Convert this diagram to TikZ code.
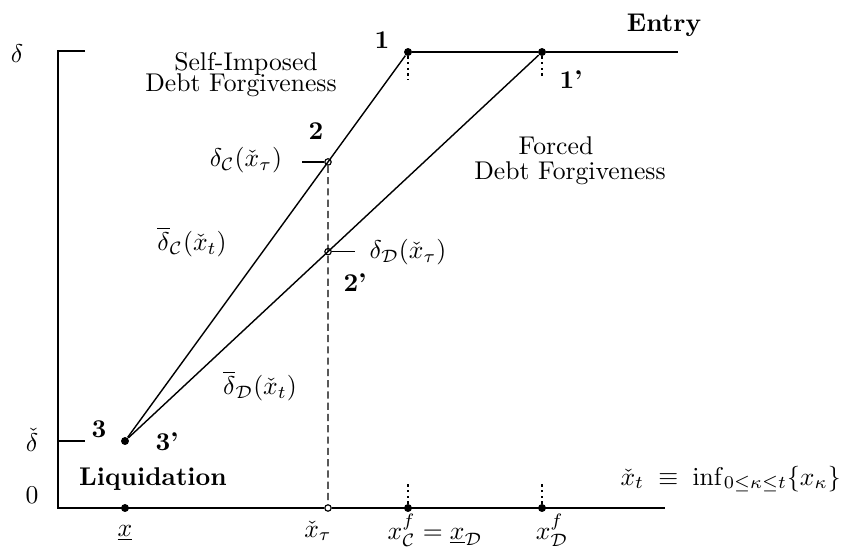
\documentclass[tikz,border=0pt]{standalone}
\usepackage{amsmath}
\begin{document}
\begin{tikzpicture}[x=0.39pt,y=-0.39pt,
  axisln/.style={line width=0.8pt},
  curveln/.style={line width=0.55pt},
  tickln/.style={line width=0.5pt},
  fdot/.style={circle,fill,inner sep=0pt,minimum size=3.1pt},
  odot/.style={circle,draw,fill=white,inner sep=0pt,minimum size=2.5pt,line width=0.45pt},
  vdots/.style={line width=0.9pt,dash pattern=on 0.9pt off 1.3pt},
  vdash/.style={line width=0.45pt,dash pattern=on 2.8pt off 1.6pt},
  lbl/.style={inner sep=0pt},
  bl/.style={inner sep=0pt,font=\bfseries}]
\useasboundingbox (0,0) rectangle (844,551);
% coordinates
\coordinate (c1) at (408,52);
\coordinate (c1p) at (542,52);
\coordinate (c3) at (125,441);
\coordinate (vt) at (328,0);
\coordinate (vb) at (328,508);
\coordinate (ytop) at (58,51);
\coordinate (ttop) at (85,51);
\coordinate (orig) at (58,508);
\coordinate (xend) at (665,508);
\coordinate (tdl) at (58,441);
\coordinate (tdr) at (85,441);
\coordinate (topend) at (678,52);
\coordinate (d1) at (408,80);
\coordinate (d1p) at (542,78);
\coordinate (dcf) at (408,481);
\coordinate (ddf) at (542,481);
\coordinate (tk2) at (302,0);
\coordinate (tk2p) at (355,0);
% points
\node[fdot] (p1) at (c1) {};
\node[fdot] (p1p) at (c1p) {};
\node[fdot] (p3) at (c3) {};
\node[odot] (p2) at (intersection of c3--c1 and vt--vb) {};
\node[odot] (p2p) at (intersection of c3--c1p and vt--vb) {};
\node[odot] (xtau) at (vb) {};
\node[fdot] (xlow) at (125,508) {};
\node[fdot] (xcf) at (408,508) {};
\node[fdot] (xdf) at (542,508) {};
% axes
\draw[axisln] (ttop) -- (ytop) -- (orig) -- (xtau) -- (xend);
\draw[tickln] (tdl) -- (tdr);
% curves
\draw[curveln] (p3) -- (p1);
\draw[curveln] (p3) -- (p1p);
\draw[axisln] (p1) -- (p1p) -- (topend);
% dotted / dashed
\draw[vdots] (p1) -- (d1);
\draw[vdots] (p1p) -- (d1p);
\draw[vdots] (xcf) -- (dcf);
\draw[vdots] (xdf) -- (ddf);
\draw[vdash] (p2) -- (xtau);
\draw[tickln] (tk2 |- p2) -- (p2);
\draw[tickln] (p2p) -- (tk2p |- p2p);
% labels
\node[lbl] (ld) at (17,54) {$\delta$};
\node[lbl] (ldc) at (32,440) {$\check{\delta}$};
\node[lbl] (l0) at (32,495) {$0$};
\node[bl] (l1) at (382,40) {1};
\node[bl] (l1p) at (571,80) {1'};
\node[bl] (lentry) at (664,25) {Entry};
\node[bl] (l2) at (316,131) {2};
\node[bl] (l2p) at (355,283) {2'};
\node[bl] (l3) at (99,429) {3};
\node[bl] (l3p) at (167,442) {3'};
\node[bl] (lliq) at (153,479) {Liquidation};
\node[lbl] (ls1) at (246,64) {Self-Imposed};
\node[lbl] (ls2) at (241,85) {Debt Forgiveness};
\node[lbl] (lf1) at (556,146) {Forced};
\node[lbl] (lf2) at (570,173) {Debt Forgiveness};
\node[lbl] (ldcx) at (246,160) {$\delta_{\mathcal{C}}(\check{x}_\tau)$};
\node[lbl] (lddx) at (408,252) {$\delta_{\mathcal{D}}(\check{x}_\tau)$};
\node[lbl] (lbc) at (192,242) {$\overline{\delta}_{\mathcal{C}}(\check{x}_t)$};
\node[lbl] (lbd) at (260,386) {$\overline{\delta}_{\mathcal{D}}(\check{x}_t)$};
\node[lbl,anchor=base] (bx) at (125,536) {$\underline{x}$};
\node[lbl,anchor=base] (bxt) at (318,537) {$\check{x}_\tau$};
\node[lbl,anchor=base] (bxc) at (435,539) {$x^f_{\mathcal{C}} = \underline{x}_{\mathcal{D}}$};
\node[lbl,anchor=base] (bxd) at (552,539) {$x^f_{\mathcal{D}}$};
\node[lbl,anchor=base west] (linf) at (620,485) {$\check{x}_t \;\equiv\; \inf_{0\le\kappa\le t}\{x_\kappa\}$};
\end{tikzpicture}
\end{document}
